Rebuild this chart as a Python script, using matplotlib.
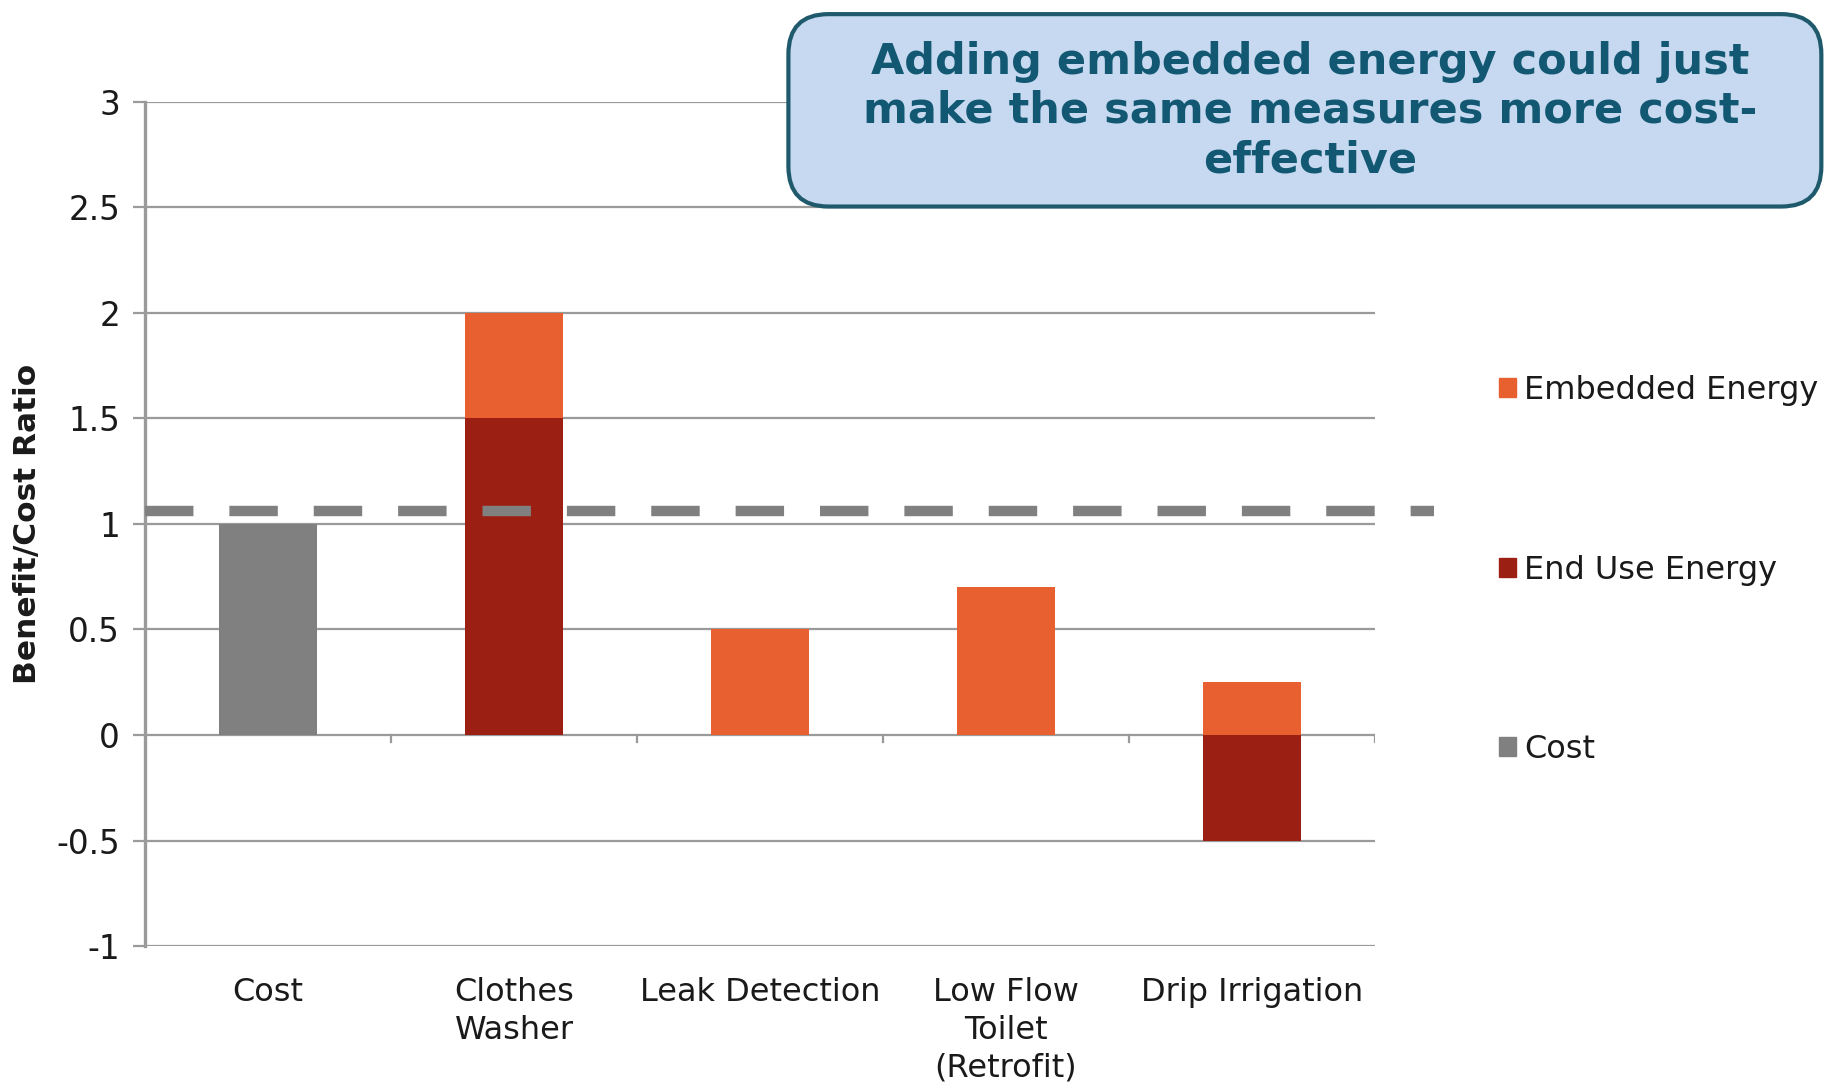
import numpy as np
import matplotlib
matplotlib.use("Agg")
import matplotlib.pyplot as plt
from matplotlib.patches import FancyBboxPatch, Patch

categories = ["Cost", "Clothes\nWasher", "Leak Detection", "Low Flow\nToilet\n(Retrofit)", "Drip Irrigation"]
cost = [1.0, 0, 0, 0, 0]
end_use_energy = [0, 1.5, 0, 0, -0.5]
embedded_energy = [0, 0.5, 0.5, 0.7, 0.25]
threshold = 1.06
y_ticks = [-1, -0.5, 0, 0.5, 1, 1.5, 2, 2.5, 3]
callout = "Adding embedded energy could just\nmake the same measures more cost-\neffective"

C_EMB = "#e8602f"
C_END = "#9c1f14"
C_COST = "#808080"
C_GRID = "#9a9a9a"
C_TEXT = "#1a1a1a"

plt.rcParams["font.family"] = ["DejaVu Sans"]

fig = plt.figure(figsize=(18.25, 10.87), dpi=100)
ax = fig.add_axes([0.0795, 0.1297, 0.6739, 0.7765])

x = np.arange(len(categories))
w = 0.40
end_arr = np.array(end_use_energy)
ax.bar(x, cost, w, color=C_COST, zorder=3)
ax.bar(x, end_use_energy, w, color=C_END, zorder=3)
ax.bar(x, embedded_energy, w, bottom=np.clip(end_arr, 0, None), color=C_EMB, zorder=3)

ax.set_xlim(-0.5, len(categories) - 0.5)
ax.set_ylim(min(y_ticks), max(y_ticks))
ax.set_yticks(y_ticks)
ax.set_yticklabels([f"{t:g}" for t in y_ticks])
for t in y_ticks:
    ax.axhline(t, color=C_GRID, lw=1.6, zorder=1)

# category boundary ticks below the zero line
for b in np.arange(len(categories)) + 0.5:
    ax.plot([b, b], [0, -0.035], color=C_GRID, lw=1.6, zorder=2)

ax.axhline(threshold, xmin=0, xmax=1.048, color=C_COST, lw=7.5,
           dashes=(4.65, 3.45), clip_on=False, zorder=4)

for s in ["top", "right", "bottom"]:
    ax.spines[s].set_visible(False)
ax.spines["left"].set_color(C_GRID)
ax.spines["left"].set_linewidth(2.4)

ax.set_xticks(x)
ax.set_xticklabels(categories, fontsize=23, color=C_TEXT, linespacing=1.3)
ax.tick_params(axis="x", length=0, pad=22)
ax.tick_params(axis="y", length=9, width=1.6, color=C_GRID, labelsize=23.5,
               labelcolor=C_TEXT, pad=9)

ax.set_ylabel("Benefit/Cost Ratio", fontsize=22.5, fontweight="bold", color=C_TEXT, labelpad=10)

handles = [Patch(color=C_EMB, label="Embedded Energy"),
           Patch(color=C_END, label="End Use Energy"),
           Patch(color=C_COST, label="Cost")]
fig.legend(handles=handles, loc="upper left", bbox_to_anchor=(0.8055, 0.6815),
           frameon=False, fontsize=23, labelspacing=4.65, handlelength=0.55,
           handleheight=0.55, handletextpad=0.25, labelcolor=C_TEXT)

box = FancyBboxPatch((0.432, 0.810), 0.566, 0.177, transform=fig.transFigure,
                     boxstyle="round,pad=0,rounding_size=0.022",
                     facecolor="#c6d9f0", edgecolor="#1f5a6c", lw=3, zorder=10,
                     mutation_aspect=1.68)
fig.patches.append(box)
fig.text(0.718, 0.898, callout, ha="center", va="center", fontsize=31,
         fontweight="bold", color="#135873", linespacing=1.22, zorder=11)

fig.savefig("out.png", dpi=100, facecolor="white")
